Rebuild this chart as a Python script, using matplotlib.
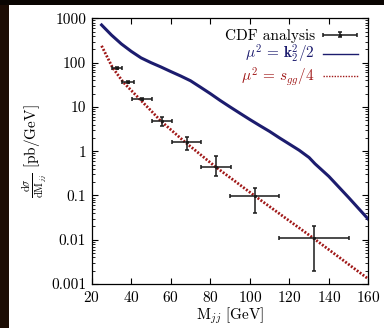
import matplotlib
matplotlib.use("Agg")
import matplotlib.pyplot as plt
from matplotlib.patches import Rectangle
from matplotlib.lines import Line2D
from matplotlib.container import ErrorbarContainer
from matplotlib.legend_handler import HandlerErrorbar
from matplotlib.ticker import FixedLocator, FuncFormatter, LogLocator, NullFormatter

plt.rcParams["font.family"] = "serif"
plt.rcParams["font.serif"] = ["cmr10", "DejaVu Serif"]
plt.rcParams["mathtext.fontset"] = "cm"
plt.rcParams["axes.formatter.use_mathtext"] = True

# CDF data points (bin centre, half width, value, error band)
cdf_x = [33, 38.5, 45.5, 55.5, 68, 83, 102.5, 132.5]
cdf_xerr = [2.5, 3, 5, 5, 7.5, 7.5, 12.5, 17.5]
cdf_y = [77, 36, 15.2, 4.8, 1.6, 0.45, 0.098, 0.011]
cdf_lo = [73, 34, 14.3, 3.8, 1.06, 0.275, 0.041, 0.002]
cdf_hi = [81, 38.5, 16.2, 6.0, 2.04, 0.78, 0.144, 0.0205]

# mu^2 = k2^2/2 curve
blue_x = [25, 30, 35, 40, 45, 50, 55, 60, 65, 70, 75, 80, 85, 90, 95, 100,
          105, 110, 115, 120, 125, 130, 133, 140, 150, 160]
blue_y = [710, 420, 265, 180, 128, 100, 80, 63, 50, 39, 28, 20, 14, 10, 7.2, 5.2,
          3.8, 2.8, 2.0, 1.45, 1.05, 0.72, 0.52, 0.27, 0.09, 0.029]

# mu^2 = s_gg/4 curve
red_x = [25, 30.5, 36, 44, 50.5, 55, 67, 82.5, 102.5, 132, 160]
red_y = [240, 78, 36, 15.5, 7.8, 4.8, 1.64, 0.45, 0.098, 0.011, 0.0013]

blue = "#1c1c6e"
red = "#a01818"

fig = plt.figure(figsize=(3.84, 3.28), dpi=100)
fig.patch.set_facecolor("white")
# dark border strips on the left and top of the screenshot
fig.patches.append(Rectangle((0, 0), 9 / 384, 1, transform=fig.transFigure,
                             facecolor="#1c0c04", edgecolor="none", zorder=-5))
fig.patches.append(Rectangle((0, 1 - 5 / 328), 1, 5 / 328, transform=fig.transFigure,
                             facecolor="#0a0502", edgecolor="none", zorder=-5))

ax = fig.add_axes([0.2388, 0.134, 0.7205, 0.810])

eb = ax.errorbar(cdf_x, cdf_y, xerr=cdf_xerr,
                 yerr=[[c - l for c, l in zip(cdf_y, cdf_lo)],
                       [h - c for c, h in zip(cdf_y, cdf_hi)]],
                 fmt=".", ms=2.5, color="#1a1a1a", ecolor="#1a1a1a",
                 elinewidth=1.1, capsize=1.6, capthick=1.1, zorder=4)
ax.plot(blue_x, blue_y, color=blue, lw=2.2, zorder=3)
ax.plot(red_x, red_y, color=red, lw=2.0, ls=(0, (0.7, 0.6)), zorder=3)

ax.set_yscale("log")
ax.set_xlim(20, 160)
ax.set_ylim(0.001, 1000)
ax.xaxis.set_major_locator(FixedLocator([20, 40, 60, 80, 100, 120, 140, 160]))
ax.yaxis.set_major_locator(FixedLocator([0.001, 0.01, 0.1, 1, 10, 100, 1000]))
ax.yaxis.set_major_formatter(FuncFormatter(lambda v, p: "%g" % v))
ax.yaxis.set_minor_locator(LogLocator(base=10, subs=range(2, 10), numticks=20))
ax.yaxis.set_minor_formatter(NullFormatter())
ax.tick_params(which="both", direction="in", top=True, right=True, labelsize=11)
ax.tick_params(which="major", length=4, width=0.8, pad=4)
ax.tick_params(which="minor", length=2.2, width=0.6)
for s in ax.spines.values():
    s.set_linewidth(0.9)

ax.set_xlabel(r"M$_{jj}$ [GeV]", fontsize=11, labelpad=1)
ax.set_ylabel(r"$\frac{\mathrm{d}\sigma}{\mathrm{dM}_{jj}}$ [pb/GeV]", fontsize=11, labelpad=2)

# thin proxies for the legend, like the original
h_blue = Line2D([], [], color=blue, lw=1.0)
h_red = Line2D([], [], color=red, lw=1.0, ls=(0, (1, 1)))
leg = ax.legend([eb, h_blue, h_red],
                ["CDF analysis", r"$\mu^2\,=\,\mathbf{k}_2^2/2$", r"$\mu^2\,=\,s_{gg}/4$"],
                loc="upper right", frameon=False, markerfirst=False, fontsize=11,
                handlelength=2.3, handletextpad=0.5, labelspacing=0.0,
                borderaxespad=0.3,
                handler_map={ErrorbarContainer: HandlerErrorbar(xerr_size=1.1, yerr_size=0.15)})
for t, c in zip(leg.get_texts(), ["black", blue, red]):
    t.set_color(c)

fig.savefig("out.png", dpi=100, facecolor=fig.get_facecolor())
